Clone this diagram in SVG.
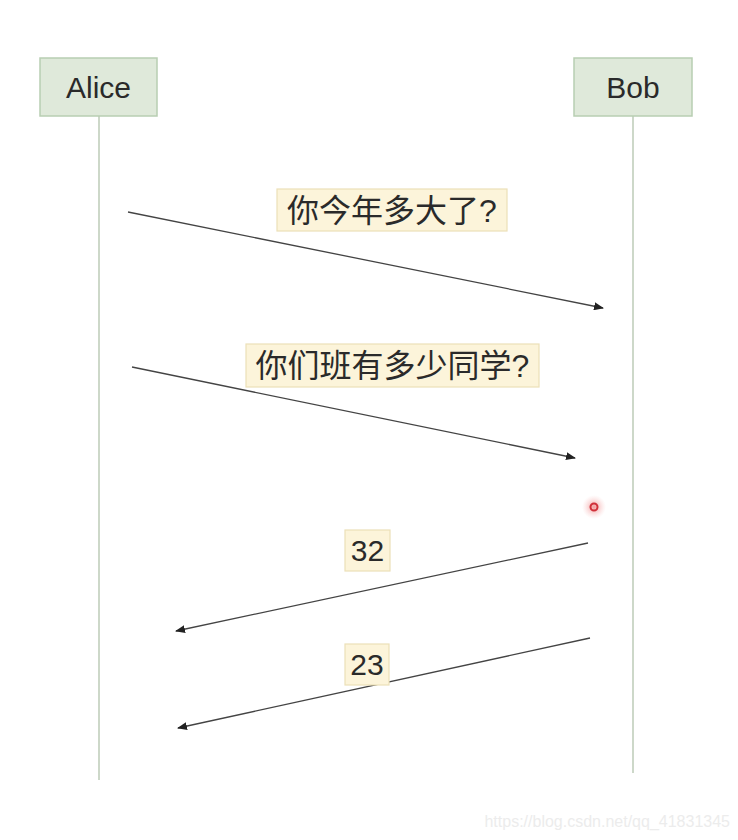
<svg xmlns="http://www.w3.org/2000/svg" width="738" height="840" viewBox="0 0 738 840">
<defs>
<style>
.actor{fill:#dfe9da;stroke:#b8ceb2;stroke-width:1.5}
.actor-text{font-family:"Liberation Sans",Arial,sans-serif;font-size:30px;fill:#2a2a2a;text-anchor:middle}
.life{stroke:#cdd8c9;stroke-width:2;fill:none}
.msg{stroke:#444;stroke-width:1.3;fill:none;marker-end:url(#ah)}
.lbl{fill:#fcf4da;stroke:#ecdfb8;stroke-width:1.2}
.lbl-text{font-family:"Liberation Sans","Noto Sans CJK SC",sans-serif;font-size:32px;fill:#2a2a2a;text-anchor:middle}
.num-text{font-family:"Liberation Sans",Arial,sans-serif;font-size:30px;fill:#2a2a2a;text-anchor:middle}
</style>
<marker id="ah" markerWidth="10" markerHeight="8" refX="9" refY="4" orient="auto" markerUnits="userSpaceOnUse">
<path d="M0,0 L10,4 L0,8 Z" fill="#222"/>
</marker>
<radialGradient id="glow">
<stop offset="0" stop-color="#e85a5a" stop-opacity="0.6"/>
<stop offset="1" stop-color="#f7b0b0" stop-opacity="0"/>
</radialGradient>
</defs>
<rect width="738" height="840" fill="#ffffff"/>
<g id="lifelines">
<line class="life" x1="99" y1="116" x2="99" y2="780"/>
<line class="life" x1="633" y1="116" x2="633" y2="773"/>
</g>
<g id="alice">
<rect class="actor" x="40" y="58" width="117" height="58"/>
<text class="actor-text" x="98.5" y="98">Alice</text>
</g>
<g id="bob">
<rect class="actor" x="574" y="58" width="118" height="58"/>
<text class="actor-text" x="633" y="98">Bob</text>
</g>
<g id="connectors">
<line class="msg" x1="128" y1="212" x2="603" y2="308"/>
<line class="msg" x1="132" y1="367" x2="575" y2="458"/>
<line class="msg" x1="588" y1="543" x2="176" y2="631"/>
<line class="msg" x1="590" y1="638" x2="178" y2="728"/>
</g>
<g id="label1">
<rect class="lbl" x="277" y="189" width="230" height="42"/>
<text class="lbl-text" x="392" y="222">你今年多大了?</text>
</g>
<g id="label2">
<rect class="lbl" x="246" y="344" width="293" height="43"/>
<text class="lbl-text" x="392.5" y="377">你们班有多少同学?</text>
</g>
<g id="label3">
<rect class="lbl" x="345" y="530" width="45" height="41"/>
<text class="num-text" x="367.5" y="561">32</text>
</g>
<g id="label4">
<rect class="lbl" x="345" y="644" width="44" height="41"/>
<text class="num-text" x="367" y="675">23</text>
</g>
<g id="cursor">
<circle cx="594" cy="507" r="12" fill="url(#glow)"/>
<circle cx="594" cy="507" r="3.5" fill="none" stroke="#d0303a" stroke-width="2"/>
</g>
<text x="730" y="827" font-family="Liberation Sans,Arial,sans-serif" font-size="16" fill="#ececec" text-anchor="end">https://blog.csdn.net/qq_41831345</text>
</svg>
